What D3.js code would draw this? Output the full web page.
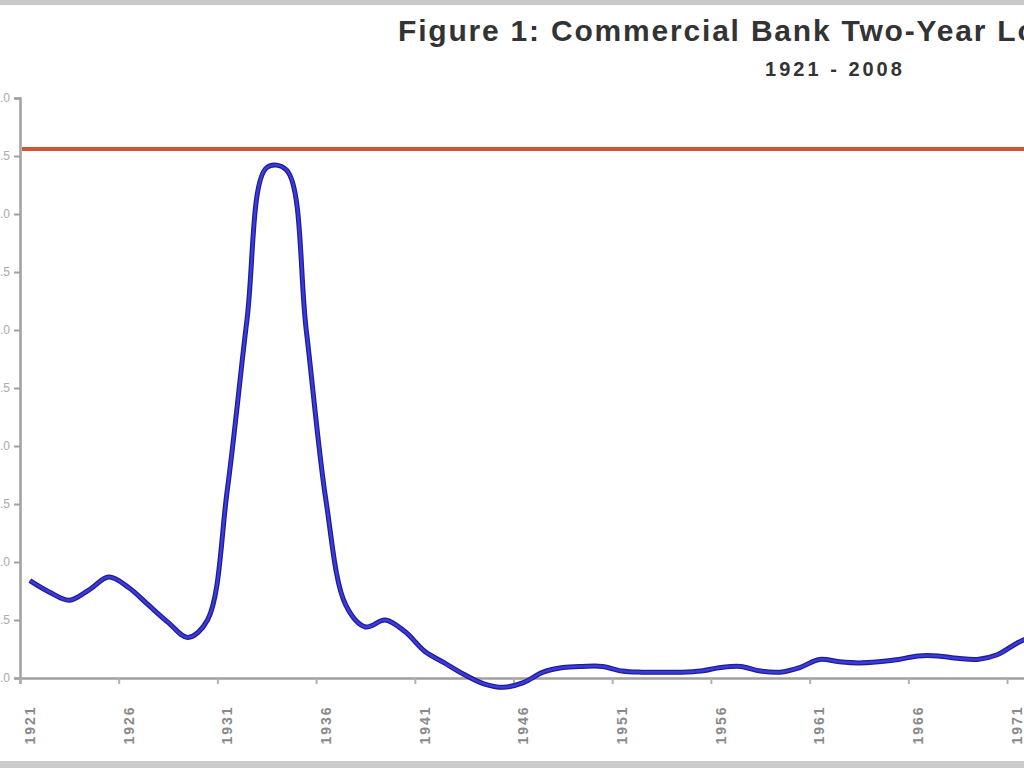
<!DOCTYPE html>
<html>
<head>
<meta charset="utf-8">
<script src="https://cdn.jsdelivr.net/npm/d3@7"></script>
<style>
  html, body { margin: 0; padding: 0; background: #ffffff; overflow: hidden; }
  svg { display: block; }
</style>
</head>
<body>
<svg id="chart" width="1024" height="768"></svg>
<script>
// ---- data (only the visible part of 1921-2008) ----
const years = [1921,1922,1923,1924,1925,1926,1927,1928,1929,1930,
               1931,1932,1933,1934,1935,1936,1937,1938,1939,1940,
               1941,1942,1943,1944,1945,1946,1947,1948,1949,1950,
               1951,1952,1953,1954,1955,1956,1957,1958,1959,1960,
               1961,1962,1963,1964,1965,1966,1967,1968,1969,1970,
               1971,1972];
const lossRate = [0.84,0.74,0.67,0.76,0.87,0.78,0.63,0.48,0.35,0.50,
                  1.62,3.09,4.40,4.38,3.00,1.53,0.63,0.44,0.50,0.40,
                  0.23,0.13,0.03,-0.05,-0.08,-0.04,0.05,0.09,0.10,0.10,
                  0.06,0.05,0.05,0.05,0.06,0.09,0.10,0.06,0.05,0.09,
                  0.16,0.14,0.13,0.14,0.16,0.19,0.19,0.17,0.16,0.20,
                  0.30,0.38];
const benchmark = 4.56;
const firstYear = 1921, lastYear = 2008;
const xTickYears = [1921,1926,1931,1936,1941,1946,1951,1956,1961,1966,1971,1976,1981,1986,1991,1996,2001,2006];
const yTicks = [0,0.5,1,1.5,2,2.5,3,3.5,4,4.5,5];
const titleText = "Figure 1: Commercial Bank Two-Year Loss Rates";
const subtitleText = "1921 - 2008";

// ---- drawing ----
const svg = d3.select("#chart");
const W = 1024, H = 768;

// frame bands
svg.append("rect").attr("x",0).attr("y",0).attr("width",W).attr("height",H).attr("fill","#ffffff");
svg.append("rect").attr("x",0).attr("y",0).attr("width",W).attr("height",5).attr("fill","#c9c9c9");
svg.append("rect").attr("x",0).attr("y",761).attr("width",W).attr("height",7).attr("fill","#cbcbcb");

const axisLeft = 20;
const pxPerYear = 19.74;
const x = d3.scaleLinear()
  .domain([firstYear - 0.5, lastYear + 0.5])
  .range([axisLeft, axisLeft + (lastYear - firstYear + 1) * pxPerYear]);
const y = d3.scaleLinear().domain([0, 5]).range([678, 98]);

// y axis (labels mostly fall outside the cropped picture, as in the reference)
const yAxis = d3.axisLeft(y).tickValues(yTicks).tickSize(6).tickPadding(4).tickFormat(d3.format(".1f"));
const gy = svg.append("g").attr("transform", `translate(${axisLeft},0)`).call(yAxis);
gy.select(".domain").attr("stroke","#a0a0a0").attr("stroke-width",2.5);
gy.selectAll(".tick line").attr("stroke","#a0a0a0").attr("stroke-width",2);
gy.selectAll(".tick text").attr("fill","#aaa").style("font","12px 'Liberation Sans', Arial, sans-serif");

// x axis (category boundaries every 5 years)
const boundaryTicks = d3.range(firstYear - 0.5, lastYear + 1, 5);
const xAxis = d3.axisBottom(x).tickValues(boundaryTicks).tickSize(6).tickFormat("");
const gx = svg.append("g").attr("transform", `translate(0,${y(0)})`).call(xAxis);
gx.select(".domain").attr("stroke","#a0a0a0").attr("stroke-width",2.5);
gx.selectAll(".tick line").attr("stroke","#b0b0b0").attr("stroke-width",2);

// rotated year labels at category centres
svg.append("g").selectAll("text").data(xTickYears).join("text")
  .attr("transform", d => `translate(${x(d) + 5},725) rotate(-90)`)
  .attr("text-anchor","middle")
  .attr("fill","#8a8a8a")
  .style("font","bold 14px 'Liberation Sans', Arial, sans-serif")
  .style("letter-spacing","2px")
  .text(d => d);

// benchmark red line
svg.append("line")
  .attr("x1", axisLeft + 2).attr("x2", x(lastYear + 0.5))
  .attr("y1", y(benchmark)).attr("y2", y(benchmark))
  .attr("stroke","#d4543a").attr("stroke-width",4);

// loss rate line
const pts = years.map((yr,i) => [yr, lossRate[i]]);
const line = d3.line().x(d => x(d[0])).y(d => y(d[1])).curve(d3.curveCatmullRom.alpha(0.5));
svg.append("path").datum(pts)
  .attr("fill","none").attr("stroke","#1e1e8c").attr("stroke-width",5)
  .attr("stroke-linejoin","round").attr("d", line);
svg.append("path").datum(pts)
  .attr("fill","none").attr("stroke","#3a3ae0").attr("stroke-width",2.5)
  .attr("stroke-linejoin","round").attr("d", line);

// titles
svg.append("text").attr("x",398).attr("y",41)
  .attr("fill","#333")
  .style("font","bold 30px 'Liberation Sans', Arial, sans-serif")
  .style("letter-spacing","1.8px")
  .text(titleText);
svg.append("text").attr("x",835).attr("y",76).attr("text-anchor","middle")
  .attr("fill","#333")
  .style("font","bold 20px 'Liberation Sans', Arial, sans-serif")
  .style("letter-spacing","3px")
  .text(subtitleText);
</script>
</body>
</html>
